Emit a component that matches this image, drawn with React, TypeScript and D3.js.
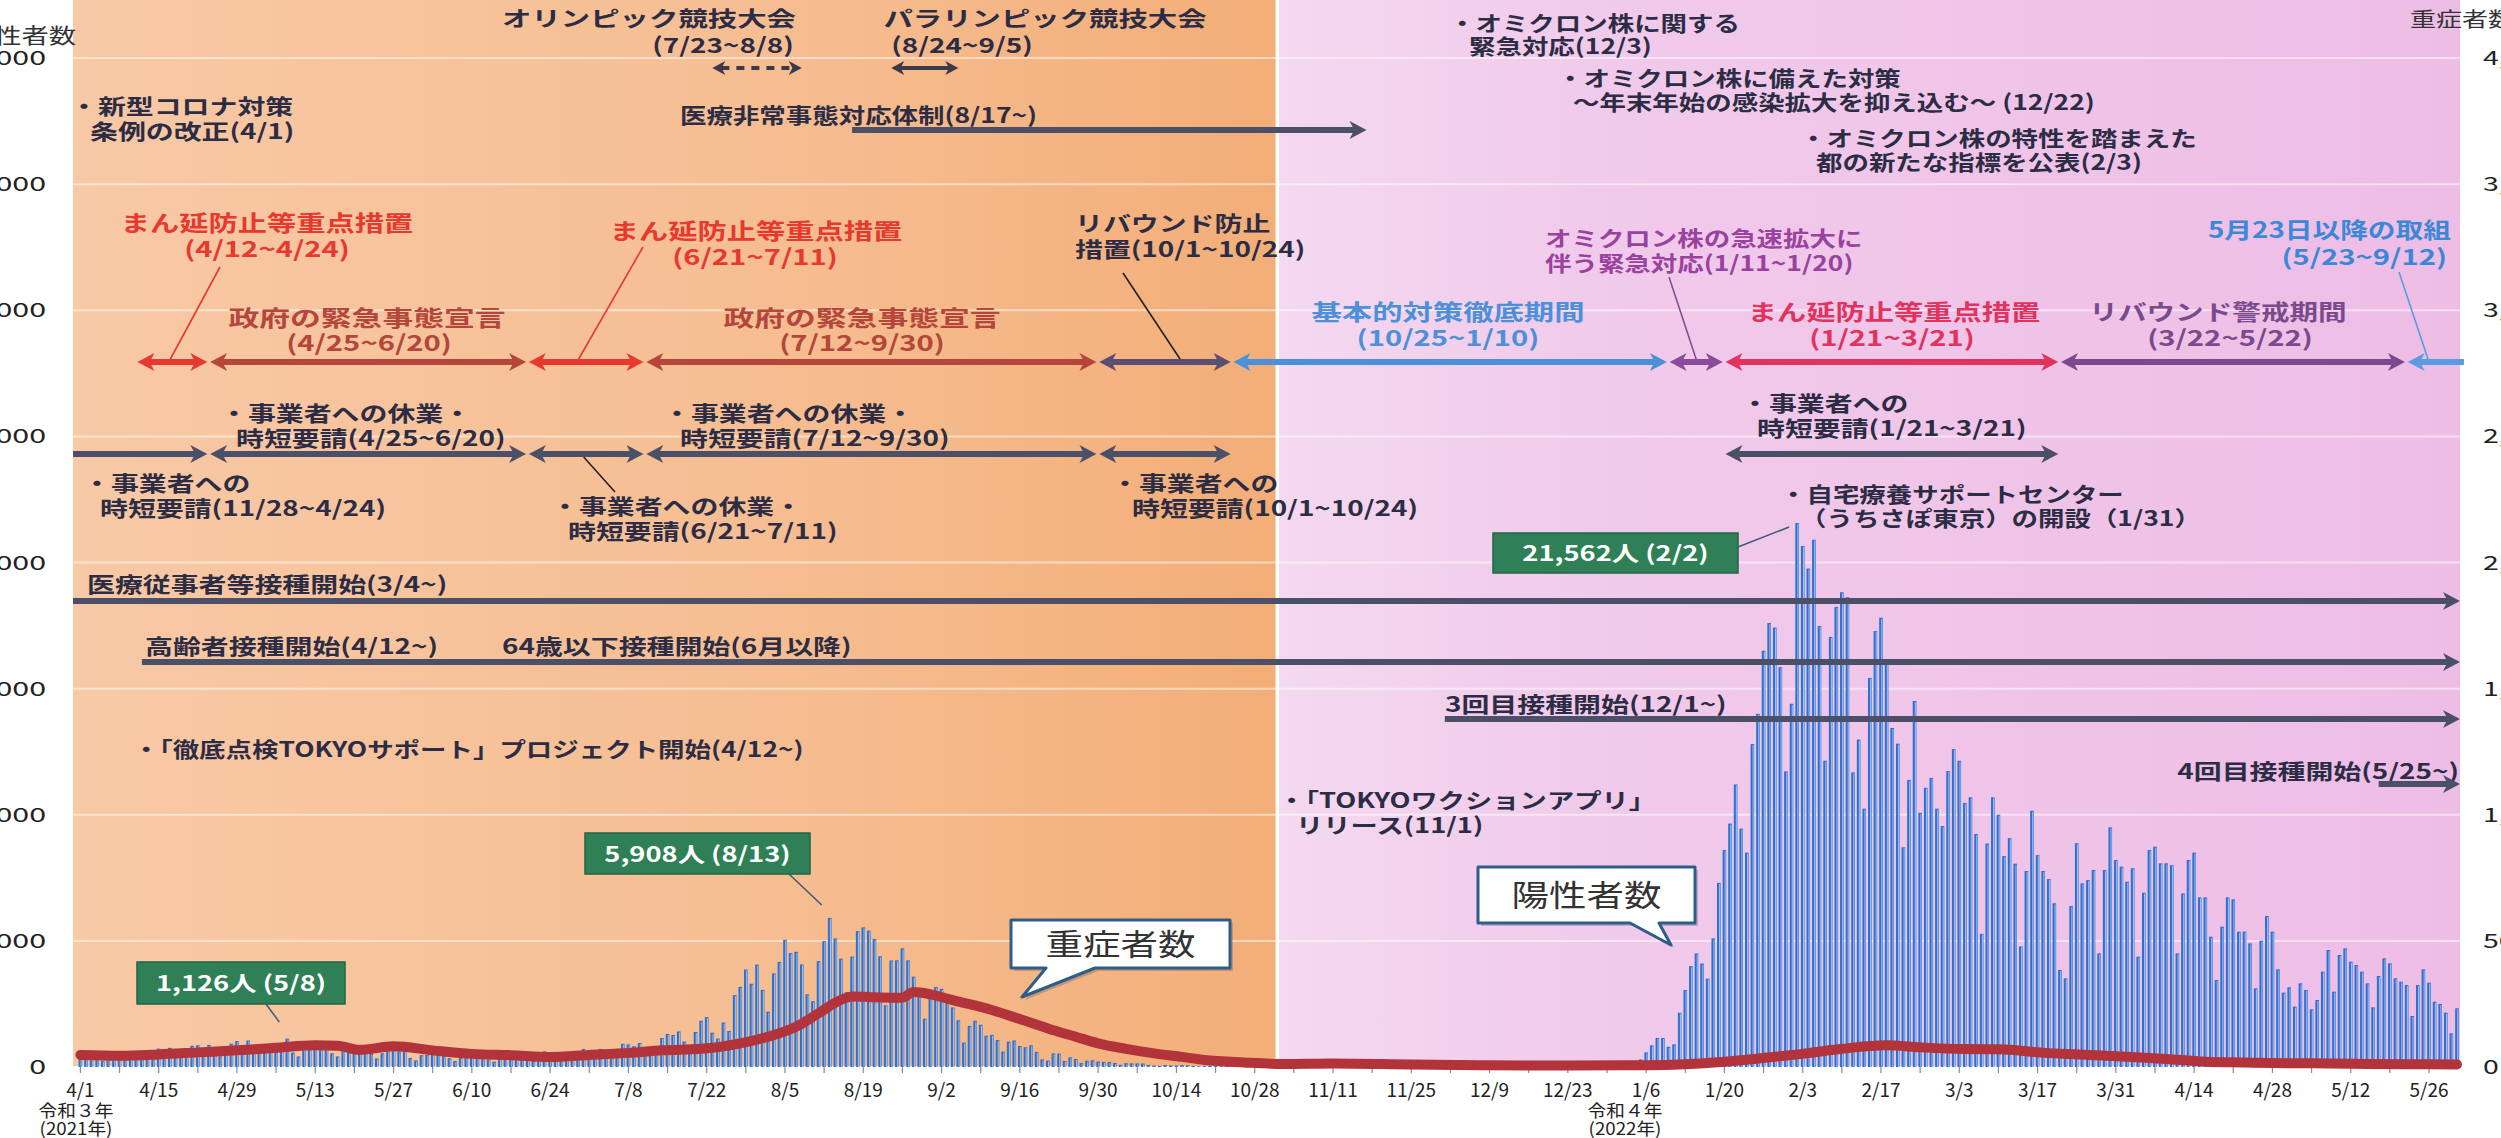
import * as d3 from "d3";
import React from "react";

// 陽性者数 (daily new positive cases), Tokyo, from 2021-04-01
const firstDay = "2021-04-01";
const casesApr2021 = [475, 446, 446, 355, 249, 399, 555, 545, 537, 570, 421, 306, 510, 591, 729, 667, 759, 543, 405, 711, 843, 861, 759, 876, 635, 425, 828, 925, 1027, 698];
const casesMay2021 = [1050, 879, 708, 609, 621, 591, 907, 1126, 573, 419, 925, 969, 1010, 854, 772, 542, 419, 732, 766, 843, 614, 636, 535, 340, 543, 743, 684, 614, 629, 359, 260];
const casesJun2021 = [471, 487, 508, 472, 436, 351, 235, 369, 440, 439, 435, 467, 304, 209, 337, 501, 452, 453, 388, 376, 236, 435, 619, 570, 562, 534, 386, 317, 476, 714];
const casesJul2021 = [673, 660, 716, 518, 342, 593, 920, 896, 822, 950, 614, 502, 830, 1149, 1308, 1271, 1410, 1008, 727, 1387, 1832, 1979, 1359, 1128, 1763, 1429, 2848, 3177, 3865, 3300, 4058];
const casesAug2021 = [3058, 2195, 3709, 4166, 5042, 4515, 4566, 4066, 2884, 2612, 4200, 4989, 5908, 5094, 4295, 2962, 4377, 5386, 5534, 5405, 5074, 4392, 2447, 4220, 4228, 4704, 4227, 3581, 3081, 1915, 2909];
const casesSep2021 = [3168, 3099, 2539, 2362, 1853, 968, 1629, 1834, 1675, 1242, 1273, 1067, 611, 1004, 1052, 831, 782, 862, 599, 302, 253, 537, 531, 235, 382, 319, 154, 248, 267, 218];
const casesOct2021 = [200, 196, 161, 87, 149, 144, 143, 138, 82, 60, 49, 77, 62, 62, 72, 66, 40, 29, 36, 41, 36, 26, 32, 19, 17, 29, 36, 21, 23, 22, 22];
const casesNov2021 = [9, 29, 18, 25, 21, 21, 17, 20, 25, 28, 25, 14, 26, 23, 10, 29, 21, 23, 23, 20, 10, 6, 18, 16, 22, 14, 30, 15, 8, 11];
const casesDec2021 = [13, 19, 21, 17, 17, 9, 22, 13, 21, 17, 17, 13, 8, 24, 20, 16, 19, 37, 24, 12, 24, 45, 39, 37, 57, 37, 34, 76, 64, 78, 79];
const casesJan2022 = [79, 84, 103, 151, 300, 580, 860, 1150, 1150, 800, 900, 2150, 3050, 4000, 4500, 4100, 3500, 5100, 7300, 8600, 9650, 11200, 9450, 8500, 12800, 14000, 16500, 17600, 17420, 15850, 11720];
const casesFeb2022 = [14400, 21562, 20650, 19760, 20900, 17480, 12140, 17050, 18240, 18820, 18620, 11680, 12980, 10240, 15420, 17280, 17810, 16030, 13440, 12820, 8710, 11380, 14510, 10080, 11070, 11460, 10240, 9550];
const casesMar2022 = [11730, 12600, 12140, 10470, 10690, 9240, 5280, 8860, 10690, 10000, 8360, 9070, 8060, 4780, 7770, 10160, 8400, 7770, 7450, 6490, 3845, 3515, 6380, 8870, 7280, 7410, 7810, 4505, 7810, 9500, 8205];
const casesApr2022 = [7940, 7345, 7880, 4373, 6910, 8600, 8733, 8073, 8073, 8000, 4505, 6880, 8205, 8496, 6725, 6725, 5166, 3450, 5563, 6725, 6646, 5364, 5364, 4902, 3118, 5008, 5986, 5364, 3871, 2947];
const casesMay2022 = [3158, 2392, 3316, 3052, 2286, 2656, 3779, 4638, 2986, 4440, 4704, 4176, 4043, 3779, 3316, 2365, 3607, 4308, 4109, 3515, 3383, 3250, 2022, 3250, 3871, 3343, 2590, 2497, 2154, 1334, 2326];

const dailyCases = [
  ...casesApr2021, ...casesMay2021, ...casesJun2021, ...casesJul2021, ...casesAug2021, ...casesSep2021,
  ...casesOct2021, ...casesNov2021, ...casesDec2021, ...casesJan2022, ...casesFeb2022, ...casesMar2022,
  ...casesApr2022, ...casesMay2022,
];

// 重症者数 (severe cases)
const severeDates = [
  "2021-04-01", "2021-04-08", "2021-04-15", "2021-04-22", "2021-04-29", "2021-05-06", "2021-05-13", "2021-05-17",
  "2021-05-21", "2021-05-27", "2021-06-03", "2021-06-10", "2021-06-17", "2021-06-24", "2021-07-01", "2021-07-08",
  "2021-07-14", "2021-07-21", "2021-07-28", "2021-08-03", "2021-08-07", "2021-08-11", "2021-08-15", "2021-08-17",
  "2021-08-22", "2021-08-26", "2021-08-28", "2021-08-31", "2021-09-04", "2021-09-11", "2021-09-16", "2021-09-21",
  "2021-09-26", "2021-09-30", "2021-10-05", "2021-10-10", "2021-10-15", "2021-10-19", "2021-10-26", "2021-11-02",
  "2021-11-11", "2021-11-25", "2021-12-09", "2021-12-23", "2022-01-06", "2022-01-13", "2022-01-20", "2022-01-27",
  "2022-02-04", "2022-02-10", "2022-02-18", "2022-02-24", "2022-03-04", "2022-03-10", "2022-03-19", "2022-03-26",
  "2022-04-02", "2022-04-09", "2022-04-16", "2022-04-23", "2022-05-01", "2022-05-08", "2022-05-15", "2022-05-22",
  "2022-05-31",
];
const severeCounts = [
  48, 45, 50, 58, 66, 76, 86, 84,
  68, 82, 66, 52, 47, 40, 48, 56,
  66, 72, 94, 127, 160, 213, 266, 279,
  276, 275, 297, 288, 265, 226, 190, 153,
  120, 94, 72, 54, 40, 28, 18, 12,
  14, 10, 7, 6, 7, 11, 21, 36,
  55, 72, 86, 78, 71, 70, 55, 48,
  41, 32, 21, 18, 15, 14, 12, 11,
  10,
];

const leftTicks = [0, 5000, 10000, 15000, 20000, 25000, 30000, 35000, 40000];
const rightTicks = [0, 500, 1000, 1500, 2000, 2500, 3000, 3500, 4000];
const dateTicks = [
  "2021-04-01", "2021-04-15", "2021-04-29", "2021-05-13", "2021-05-27", "2021-06-10", "2021-06-24", "2021-07-08",
  "2021-07-22", "2021-08-05", "2021-08-19", "2021-09-02", "2021-09-16", "2021-09-30", "2021-10-14", "2021-10-28",
  "2021-11-11", "2021-11-25", "2021-12-09", "2021-12-23", "2022-01-06", "2022-01-20", "2022-02-03", "2022-02-17",
  "2022-03-03", "2022-03-17", "2022-03-31", "2022-04-14", "2022-04-28", "2022-05-12", "2022-05-26",
];

// measures (top row), business requests (second row)
const measurePeriods = [
  { from: "2021-04-12", to: "2021-04-24", kind: "mambo" },
  { from: "2021-04-25", to: "2021-06-20", kind: "emergency" },
  { from: "2021-06-21", to: "2021-07-11", kind: "mambo" },
  { from: "2021-07-12", to: "2021-09-30", kind: "emergency" },
  { from: "2021-10-01", to: "2021-10-24", kind: "rebound" },
  { from: "2021-10-25", to: "2022-01-10", kind: "basic" },
  { from: "2022-01-11", to: "2022-01-20", kind: "omicron" },
  { from: "2022-01-21", to: "2022-03-21", kind: "mambo2" },
  { from: "2022-03-22", to: "2022-05-22", kind: "caution" },
  { from: "2022-05-23", to: null, kind: "after" },
];
const businessPeriods = [
  { from: null, to: "2021-04-24" },
  { from: "2021-04-25", to: "2021-06-20" },
  { from: "2021-06-21", to: "2021-07-11" },
  { from: "2021-07-12", to: "2021-09-30" },
  { from: "2021-10-01", to: "2021-10-24" },
  { from: "2022-01-21", to: "2022-03-21" },
];
const games = [
  { from: "2021-07-23", to: "2021-08-08", dashed: true },
  { from: "2021-08-24", to: "2021-09-05", dashed: false },
];
const medicalEmergency = { from: "2021-08-17", to: "2021-11-17" };
const vaccineStarts = ["2021-03-04", "2021-04-12", "2021-12-01", "2022-05-17"];
const peakLabels = [
  { date: "2021-05-08", text: "1,126人 (5/8)" },
  { date: "2021-08-13", text: "5,908人 (8/13)" },
  { date: "2022-02-02", text: "21,562人 (2/2)" },
];
const phaseSplit = "2021-11-01";

const KIND_COLOR: Record<string, string> = {
  mambo: "#e6392f",
  emergency: "#b4463b",
  rebound: "#5a4f72",
  basic: "#4b90d8",
  omicron: "#8a4c98",
  mambo2: "#e2335e",
  caution: "#7a4b8c",
  after: "#5b9be0",
};
const INK = "#2c2d44";
const SLATE = "#4b5068";
const FONT = '"Noto Sans CJK JP", "Noto Sans", sans-serif';

const W = 2501;
const H = 1138;
const Y0 = 1067;
const PLOT_L = 73;
const PLOT_R = 2460;

function Label({ x, y, text, anchor = "start", color = INK, size = 21, sx = 1.33, weight = 700 }: any) {
  return (
    <text
      transform={`translate(${x},${y}) scale(${sx},1)`}
      textAnchor={anchor}
      fill={color}
      fontSize={size}
      fontWeight={weight}
      fontFamily={FONT}
    >
      {text}
    </text>
  );
}

function Arrow({ x1, x2, y, color, w = 6, head = 17, hw = 9, start = true, end = true, dash }: any) {
  const inset = head * 0.7;
  const lx1 = start ? x1 + inset : x1;
  const lx2 = end ? x2 - inset : x2;
  return (
    <g>
      <line x1={lx1} x2={lx2} y1={y} y2={y} stroke={color} strokeWidth={w} strokeDasharray={dash} />
      {end && <path d={`M${x2},${y}L${x2 - head},${y - hw}L${x2 - head * 0.72},${y}L${x2 - head},${y + hw}Z`} fill={color} />}
      {start && <path d={`M${x1},${y}L${x1 + head},${y - hw}L${x1 + head * 0.72},${y}L${x1 + head},${y + hw}Z`} fill={color} />}
    </g>
  );
}

function Callout({ x1, y1, x2, y2, b1, b2, tx, ty, text }: any) {
  const d = `M${x1},${y1}H${x2}V${y2}H${b2}L${tx},${ty}L${b1},${y2}H${x1}Z`;
  return (
    <g>
      <path d={d} transform="translate(3,3)" fill="rgba(40,60,90,0.25)" />
      <path d={d} fill="#ffffff" stroke="#2f5d8a" strokeWidth={3} strokeLinejoin="round" />
      <Label x={(x1 + x2) / 2} y={(y1 + y2) / 2 + 11} text={text} anchor="middle" color="#333" size={30} sx={1.25} weight={400} />
    </g>
  );
}

export default function App() {
  const parse = d3.utcParse("%Y-%m-%d");
  const day0 = parse(firstDay)!;
  const x = d3.scaleUtc().domain([day0, parse("2022-05-26")!]).range([80.4, 2429]);
  const xd = (s: string) => x(parse(s)!);
  const dayW = x(d3.utcDay.offset(day0, 1)) - x(day0);
  const yL = d3.scaleLinear().domain([0, 40000]).range([Y0, 58]);
  const yR = d3.scaleLinear().domain([0, 4000]).range([Y0, 58]);
  const fmt = d3.utcFormat("%-m/%-d");

  const bars = dailyCases.map((v, i) => ({ cx: x(d3.utcDay.offset(day0, i)), v }));
  const lastX = bars[bars.length - 1].cx;
  const arrowEnd = lastX + 3;

  const severePts: [Date, number][] = severeDates.map((s, i) => [parse(s)!, severeCounts[i]]);
  const severePath = d3
    .line<[Date, number]>()
    .x((d) => x(d[0]))
    .y((d) => yR(d[1]))
    .curve(d3.curveMonotoneX)(severePts);

  const split = xd(phaseSplit);
  const weekTicks = d3.range(0, 61).map((k) => x(d3.utcDay.offset(day0, k * 7)));

  const pStart = (s: string | null) => (s ? xd(s) - dayW * 0.8 : PLOT_L);
  const pEnd = (s: string | null) => (s ? xd(s) - dayW * 0.3 : arrowEnd + 4);

  const peakBoxes = [
    { x: 137, y: 962, w: 208, h: 42, lx1: 266, ly1: 1004, ly2: 1022 },
    { x: 585, y: 833, w: 225, h: 41, lx1: 789, ly1: 874, ly2: 905 },
    { x: 1493, y: 533, w: 245, h: 40, lx1: 1738, ly1: 547, ly2: 527 },
  ];

  return (
    <div>
      <style>{`body{margin:0;background:#fff}`}</style>
      <svg width={W} height={H} style={{ display: "block" }}>
        <defs>
          <linearGradient id="bgOrange" x1="0" x2="1" y1="0" y2="0">
            <stop offset="0%" stopColor="#f8c9a6" />
            <stop offset="60%" stopColor="#f6bd91" />
            <stop offset="100%" stopColor="#f3ae78" />
          </linearGradient>
          <linearGradient id="bgPink" x1="0" x2="1" y1="0" y2="0">
            <stop offset="0%" stopColor="#f4d9f0" />
            <stop offset="25%" stopColor="#f1cbeb" />
            <stop offset="100%" stopColor="#eebde6" />
          </linearGradient>
        </defs>

        <rect x={0} y={0} width={W} height={H} fill="#ffffff" />
        <rect x={PLOT_L} y={0} width={split - 1.5 - PLOT_L} height={Y0 - 1} fill="url(#bgOrange)" />
        <rect x={split + 2} y={0} width={PLOT_R - split - 2} height={Y0 - 1} fill="url(#bgPink)" />

        {/* grid */}
        {leftTicks.slice(1).map((t) => (
          <line key={t} x1={PLOT_L} x2={PLOT_R} y1={yL(t)} y2={yL(t)} stroke="#ffffff" strokeOpacity={0.5} strokeWidth={2} />
        ))}

        {/* left axis */}
        <Label x={76} y={43} text="陽性者数" anchor="end" size={21} sx={1.3} weight={400} color="#333" />
        {leftTicks.map((t) => (
          <Label key={t} x={46} y={yL(t) + 7} text={d3.format(",")(t)} anchor="end" size={19} sx={1.6} weight={400} color="#222" />
        ))}
        {/* right axis */}
        <Label x={2410} y={27} text="重症者数" size={20} sx={1.3} weight={400} color="#333" />
        {rightTicks.map((t) => (
          <Label key={t} x={2483} y={yR(t) + 7} text={d3.format(",")(t)} size={19} sx={1.5} weight={400} color="#222" />
        ))}

        {/* x axis */}
        {weekTicks.map((tx, i) => (
          <line key={i} x1={tx} x2={tx} y1={Y0} y2={Y0 + 6} stroke="#8a8a8a" strokeWidth={1.2} />
        ))}
        {dateTicks.map((s) => (
          <text key={s} x={xd(s)} y={1097} textAnchor="middle" fontSize={19} fontFamily={FONT} fill="#222">
            {fmt(parse(s)!)}
          </text>
        ))}
        <Label x={76} y={1117} text="令和３年" anchor="middle" size={17} sx={1.1} weight={400} color="#222" />
        <Label x={76} y={1135} text="(2021年)" anchor="middle" size={17} sx={1.1} weight={400} color="#222" />
        <Label x={1625} y={1117} text="令和４年" anchor="middle" size={17} sx={1.1} weight={400} color="#222" />
        <Label x={1625} y={1135} text="(2022年)" anchor="middle" size={17} sx={1.1} weight={400} color="#222" />

        {/* positive cases */}
        {bars.map((b, i) => (
          <g key={i}>
            <rect x={b.cx - 1.8} y={yL(b.v)} width={3.6} height={Y0 - yL(b.v)} fill="#2f6fcf" />
            <rect x={b.cx + 0.2} y={yL(b.v) + 1} width={1.1} height={Math.max(0, Y0 - yL(b.v) - 1)} fill="#94c2f2" />
          </g>
        ))}

        {/* severe cases */}
        <path d={severePath || undefined} fill="none" stroke="#b2333a" strokeWidth={10} strokeLinejoin="round" strokeLinecap="round" />

        {/* Olympics / Paralympics */}
        <Label x={649} y={26} text="オリンピック競技大会" anchor="middle" size={21} sx={1.4} />
        <Label x={723} y={53} text="(7/23~8/8)" anchor="middle" size={21} sx={1.33} />
        <Label x={1045} y={26} text="パラリンピック競技大会" anchor="middle" size={21} sx={1.4} />
        <Label x={962} y={53} text="(8/24~9/5)" anchor="middle" size={21} sx={1.33} />
        {games.map((g) => (
          <Arrow key={g.from} x1={xd(g.from)} x2={xd(g.to)} y={68} color="#3a3a48" w={4} head={13} hw={7} dash={g.dashed ? "8 7" : undefined} />
        ))}

        {/* ordinance & medical emergency */}
        <Label x={70} y={114} text="・新型コロナ対策" />
        <Label x={90} y={139} text="条例の改正(4/1)" />
        <Label x={680} y={123} text="医療非常事態対応体制(8/17~)" sx={1.26} />
        <Arrow x1={xd(medicalEmergency.from)} x2={xd(medicalEmergency.to)} y={130} color={SLATE} start={false} />

        {/* omicron notes */}
        <Label x={1449} y={31} text="・オミクロン株に関する" sx={1.26} />
        <Label x={1469} y={54} text="緊急対応(12/3)" sx={1.26} />
        <Label x={1557} y={86} text="・オミクロン株に備えた対策" sx={1.26} />
        <Label x={1573} y={110} text="～年末年始の感染拡大を抑え込む～ (12/22)" sx={1.26} />
        <Label x={1800} y={146} text="・オミクロン株の特性を踏まえた" sx={1.26} />
        <Label x={1816} y={170} text="都の新たな指標を公表(2/3)" sx={1.26} />

        {/* measure labels */}
        <Label x={267} y={231} text="まん延防止等重点措置" anchor="middle" color={KIND_COLOR.mambo} size={22} />
        <Label x={267} y={257} text="(4/12~4/24)" anchor="middle" color={KIND_COLOR.mambo} size={22} />
        <line x1={220} y1={267} x2={xd("2021-04-17")} y2={360} stroke={KIND_COLOR.mambo} strokeWidth={1.6} />
        <Label x={756} y={239} text="まん延防止等重点措置" anchor="middle" color={KIND_COLOR.mambo} size={22} />
        <Label x={755} y={265} text="(6/21~7/11)" anchor="middle" color={KIND_COLOR.mambo} size={22} />
        <line x1={643} y1={247} x2={xd("2021-06-29")} y2={360} stroke={KIND_COLOR.mambo} strokeWidth={1.6} />
        <Label x={1075} y={231} text="リバウンド防止" />
        <Label x={1075} y={257} text="措置(10/1~10/24)" />
        <line x1={1123} y1={273} x2={xd("2021-10-15")} y2={362} stroke="#222" strokeWidth={1.6} />
        <Label x={367} y={326} text="政府の緊急事態宣言" anchor="middle" color={KIND_COLOR.emergency} size={22} sx={1.4} />
        <Label x={369} y={351} text="(4/25~6/20)" anchor="middle" color={KIND_COLOR.emergency} size={22} />
        <Label x={862} y={326} text="政府の緊急事態宣言" anchor="middle" color={KIND_COLOR.emergency} size={22} sx={1.4} />
        <Label x={862} y={351} text="(7/12~9/30)" anchor="middle" color={KIND_COLOR.emergency} size={22} />
        <Label x={1448} y={320} text="基本的対策徹底期間" anchor="middle" color={KIND_COLOR.basic} size={22} sx={1.38} />
        <Label x={1448} y={346} text="(10/25~1/10)" anchor="middle" color={KIND_COLOR.basic} size={22} />
        <Label x={1545} y={246} text="オミクロン株の急速拡大に" color="#9a42a0" sx={1.26} />
        <Label x={1545} y={271} text="伴う緊急対応(1/11~1/20)" color="#9a42a0" sx={1.26} />
        <line x1={1669} y1={277} x2={xd("2022-01-15")} y2={360} stroke={KIND_COLOR.omicron} strokeWidth={1.6} />
        <Label x={1894} y={320} text="まん延防止等重点措置" anchor="middle" color={KIND_COLOR.mambo2} size={22} sx={1.33} />
        <Label x={1892} y={346} text="(1/21~3/21)" anchor="middle" color={KIND_COLOR.mambo2} size={22} />
        <Label x={2218} y={320} text="リバウンド警戒期間" anchor="middle" color={KIND_COLOR.caution} size={22} sx={1.3} />
        <Label x={2230} y={346} text="(3/22~5/22)" anchor="middle" color={KIND_COLOR.caution} size={22} />
        <Label x={2451} y={238} text="5月23日以降の取組" anchor="end" color="#3a88d6" size={22} sx={1.26} />
        <Label x={2447} y={265} text="(5/23~9/12)" anchor="end" color="#3a88d6" size={22} />
        <line x1={2399} y1={272} x2={xd("2022-05-26")} y2={362} stroke={KIND_COLOR.after} strokeWidth={1.6} />

        {measurePeriods.map((p) => (
          <Arrow
            key={p.from}
            x1={pStart(p.from)}
            x2={pEnd(p.to)}
            y={362}
            color={KIND_COLOR[p.kind]}
            w={6}
            end={p.to !== null}
          />
        ))}

        {/* business requests */}
        <Label x={220} y={421} text="・事業者への休業・" />
        <Label x={236} y={446} text="時短要請(4/25~6/20)" />
        <Label x={663} y={421} text="・事業者への休業・" />
        <Label x={680} y={446} text="時短要請(7/12~9/30)" />
        <Label x={83} y={491} text="・事業者への" />
        <Label x={100} y={516} text="時短要請(11/28~4/24)" />
        <Label x={551} y={514} text="・事業者への休業・" />
        <Label x={568} y={539} text="時短要請(6/21~7/11)" />
        <line x1={xd("2021-06-30")} y1={457} x2={615} y2={492} stroke="#222" strokeWidth={1.6} />
        <Label x={1111} y={491} text="・事業者への" />
        <Label x={1132} y={516} text="時短要請(10/1~10/24)" />
        <Label x={1741} y={411} text="・事業者への" />
        <Label x={1757} y={436} text="時短要請(1/21~3/21)" />
        {businessPeriods.map((p, i) => (
          <Arrow
            key={i}
            x1={pStart(p.from)}
            x2={pEnd(p.to)}
            y={454}
            color={SLATE}
            w={6}
            start={p.from !== null}
          />
        ))}

        <Label x={1780} y={502} text="・自宅療養サポートセンター" sx={1.26} />
        <Label x={1800} y={526} text="（うちさぽ東京）の開設（1/31）" sx={1.26} />

        {/* vaccination */}
        <Label x={87} y={592} text="医療従事者等接種開始(3/4~)" />
        <Arrow x1={Math.max(PLOT_L, xd(vaccineStarts[0]))} x2={arrowEnd} y={601} color={SLATE} start={false} />
        <Label x={145} y={654} text="高齢者接種開始(4/12~)" />
        <Label x={502} y={654} text="64歳以下接種開始(6月以降)" />
        <Arrow x1={xd(vaccineStarts[1])} x2={arrowEnd} y={662} color={SLATE} start={false} />
        <Label x={1445} y={712} text="3回目接種開始(12/1~)" />
        <Arrow x1={xd(vaccineStarts[2])} x2={arrowEnd} y={719} color={SLATE} start={false} />
        <Label x={2459} y={779} text="4回目接種開始(5/25~)" anchor="end" />
        <Arrow x1={xd(vaccineStarts[3])} x2={arrowEnd} y={784} color={SLATE} start={false} />

        <Label x={133} y={757} text="・「徹底点検TOKYOサポート」プロジェクト開始(4/12~)" sx={1.26} />
        <Label x={1278} y={808} text="・「TOKYOワクションアプリ」" sx={1.3} />
        <Label x={1296} y={833} text="リリース(11/1)" sx={1.3} />

        {/* peak labels */}
        {peakLabels.map((p, i) => {
          const b = peakBoxes[i];
          return (
            <g key={p.date}>
              <line x1={b.lx1} y1={b.ly1} x2={xd(p.date) - 8} y2={b.ly2} stroke="#3d5a78" strokeWidth={1.5} />
              <rect x={b.x} y={b.y} width={b.w} height={b.h} fill="#2f7f57" stroke="#236444" strokeWidth={1.5} />
              <Label x={b.x + b.w / 2} y={b.y + b.h / 2 + 8} text={p.text} anchor="middle" color="#ffffff" size={21} sx={1.3} />
            </g>
          );
        })}

        {/* callouts */}
        <Callout x1={1011} y1={920} x2={1230} y2={968} b1={1046} b2={1095} tx={1022} ty={997} text="重症者数" />
        <Callout x1={1478} y1={867} x2={1695} y2={923} b1={1630} b2={1659} tx={1671} ty={945} text="陽性者数" />
      </svg>
    </div>
  );
}
